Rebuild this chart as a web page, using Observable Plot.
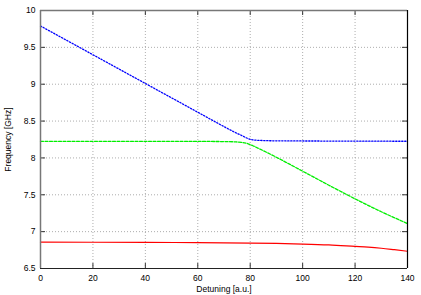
<!DOCTYPE html>
<html><head><meta charset="utf-8">
<script src="https://cdn.jsdelivr.net/npm/d3@7"></script>
<script src="https://cdn.jsdelivr.net/npm/@observablehq/plot@0.6"></script>
<style>body{margin:0;background:#fff}</style>
</head><body><div id="chart"></div>
<script>
const blueX = [0,10,20,30,40,50,60,70,74,77,79,81,84,88,95,100,110,120,130,140];
const blueY = [9.79,9.595,9.40,9.205,9.01,8.815,8.62,8.425,8.35,8.30,8.265,8.245,8.237,8.233,8.231,8.230,8.229,8.228,8.227,8.226];
const greenX = [0,10,20,30,40,50,60,70,74,77,79,81,84,88,95,100,110,120,130,140];
const greenY = [8.225,8.225,8.225,8.225,8.225,8.225,8.224,8.222,8.218,8.21,8.195,8.165,8.115,8.045,7.915,7.82,7.63,7.445,7.27,7.11];
const redX = [0,20,40,60,80,90,100,110,120,125,130,135,140];
const redY = [6.857,6.856,6.854,6.851,6.845,6.84,6.832,6.82,6.80,6.79,6.775,6.755,6.734];
const xTicks = [0,20,40,60,80,100,120,140];
const yTicks = [6.5,7,7.5,8,8.5,9,9.5,10];
const xLabel = "Detuning [a.u.]";
const yLabel = "Frequency [GHz]";

const toRows = (xs, ys) => xs.map((x,i)=>({x, y: ys[i]}));
const blue = toRows(blueX, blueY), green = toRows(greenX, greenY), red = toRows(redX, redY);
const tx = 140*5/367, ty = 3.5*5/258;

const chart = Plot.plot({
  width: 421, height: 295,
  marginLeft: 40, marginRight: 14, marginTop: 10, marginBottom: 27,
  style: {fontFamily: "Liberation Sans, Arial, sans-serif", fontSize: "8.5px", color: "#000", background: "#fff"},
  x: {domain: [0,140]},
  y: {domain: [6.5,10]},
  marks: [
    Plot.gridX(xTicks, {stroke: "#999", strokeOpacity: 0.8, strokeDasharray: "1,2"}),
    Plot.gridY(yTicks, {stroke: "#999", strokeOpacity: 0.8, strokeDasharray: "1,2"}),
    Plot.ruleX(xTicks, {y1: 6.5, y2: 6.5+ty, stroke: "#333"}),
    Plot.ruleX(xTicks, {y1: 10, y2: 10-ty, stroke: "#333"}),
    Plot.ruleY(yTicks, {x1: 0, x2: tx, stroke: "#333"}),
    Plot.ruleY(yTicks, {x1: 140, x2: 140-tx, stroke: "#333"}),
    Plot.line(red, {x:"x", y:"y", stroke:"#ff0000", strokeWidth: 1.2, curve: "monotone-x"}),
    Plot.line(green, {x:"x", y:"y", stroke:"#00ee00", strokeWidth: 1.3, strokeDasharray: "3,1.5", curve: "monotone-x"}),
    Plot.line(blue, {x:"x", y:"y", stroke:"#0000ff", strokeWidth: 1.3, strokeDasharray: "1.3,1.7", curve: "monotone-x"}),
    Plot.ruleY([10], {stroke: "#777", strokeWidth: 1.5}),
    Plot.ruleX([0], {stroke: "#777", strokeWidth: 1.5}),
    Plot.ruleY([6.5], {stroke: "#222", strokeWidth: 1.2}),
    Plot.ruleX([140], {stroke: "#000", strokeWidth: 1.2}),
    Plot.axisX(xTicks, {tickSize: 0, tickPadding: 6, label: xLabel, labelAnchor: "center", labelArrow: "none", labelOffset: 23, tickFormat: d => String(d)}),
    Plot.axisY(yTicks, {tickSize: 0, tickPadding: 5, label: yLabel, labelAnchor: "center", labelArrow: "none", labelOffset: 36, tickFormat: d => String(d)})
  ]
});
document.getElementById("chart").appendChild(chart);
</script></body></html>
